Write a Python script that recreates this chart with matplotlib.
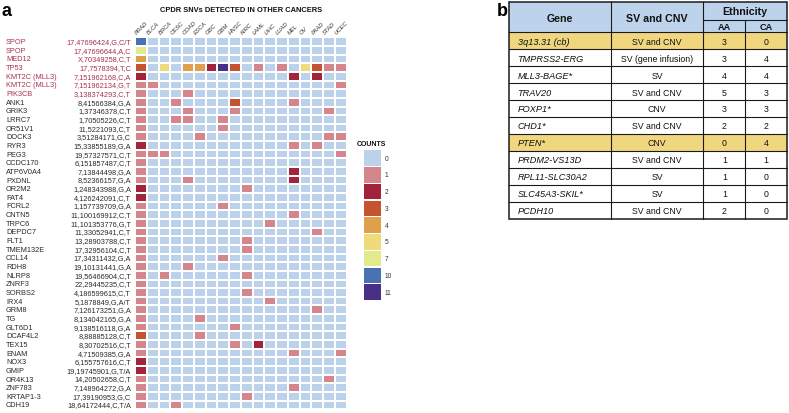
import numpy as np
import matplotlib
matplotlib.use("Agg")
import matplotlib.pyplot as plt
from matplotlib.colors import ListedColormap, BoundaryNorm
from matplotlib.patches import Rectangle
from matplotlib.transforms import blended_transform_factory as blend
from matplotlib import font_manager

# ---------------- data: panel a ----------------
cancers = ["PRAD", "BLCA", "BRCA", "CESC", "COAD", "ESCA", "GBC", "GBM", "HNSC",
           "KIRC", "LAML", "LIHC", "LUAD", "MEL", "OV", "PAAD", "STAD", "UCEC"]

genes = ["SPOP", "SPOP", "MED12", "TP53", "KMT2C (MLL3)", "KMT2C (MLL3)", "PIK3CB",
         "ANK1", "GRIK3", "LRRC7", "OR51V1", "DOCK3", "RYR3", "PEG3", "CCDC170",
         "ATP6V0A4", "PXDNL", "OR2M2", "FAT4", "FCRL2", "CNTN5", "TRPC6", "DEPDC7",
         "FLT1", "TMEM132E", "CCL14", "RDH8", "NLRP8", "ZNRF3", "SORBS2", "IRX4",
         "GRM8", "TG", "GLT6D1", "DCAF4L2", "TEX15", "ENAM", "NOX3", "GMIP",
         "OR4K13", "ZNF783", "KRTAP1-3", "CDH19"]

variants = ["17,47696424,G,C/T", "17,47696644,A,C", "X,70349258,C,T", "17,7578394,T,C",
            "7,151962168,C,A", "7,151962134,G,T", "3,138374293,C,T", "8,41566384,G,A",
            "1,37346378,C,T", "1,70505226,C,T", "11,5221093,C,T", "3,51284171,G,C",
            "15,33855189,G,A", "19,57327571,C,T", "6,151857487,C,T", "7,13844498,G,A",
            "8,52366157,G,A", "1,248343988,G,A", "4,126242091,C,T", "1,157739709,G,A",
            "11,100169912,C,T", "11,101353776,G,T", "11,33052941,C,T", "13,28903788,C,T",
            "17,32956104,C,T", "17,34311432,G,A", "19,10131441,G,A", "19,56466904,C,T",
            "22,29445235,C,T", "4,186599615,C,T", "5,1878849,G,A/T", "7,126173251,G,A",
            "8,134042165,G,A", "9,138516118,G,A", "8,88885128,C,T", "8,30702516,C,T",
            "4,71509385,G,A", "6,155757616,C,T", "19,19745901,G,T/A", "14,20502658,C,T",
            "7,148964272,G,A", "17,39190953,G,C", "18,64172444,C,T/A"]

n_driver = 7  # first rows highlighted in red

# non-zero counts per row (cancer -> count); all other cells are 0
counts = [
    {"PRAD": 10},
    {"PRAD": 7},
    {"PRAD": 4},
    {"PRAD": 3, "BRCA": 5, "COAD": 4, "ESCA": 4, "GBC": 2, "GBM": 11, "HNSC": 3,
     "LAML": 1, "LUAD": 1, "OV": 5, "PAAD": 3, "STAD": 1, "UCEC": 1},
    {"PRAD": 2, "MEL": 2, "PAAD": 2},
    {"PRAD": 1, "BLCA": 1, "UCEC": 1},
    {"PRAD": 1, "COAD": 1},
    {"PRAD": 1, "CESC": 1, "HNSC": 3, "MEL": 1},
    {"PRAD": 1, "COAD": 1, "HNSC": 1, "STAD": 1},
    {"PRAD": 1, "CESC": 1, "COAD": 1, "GBM": 1},
    {"PRAD": 1, "GBM": 1},
    {"PRAD": 1, "ESCA": 1, "STAD": 1, "UCEC": 1},
    {"PRAD": 2, "MEL": 1, "PAAD": 1},
    {"PRAD": 1, "BLCA": 1, "BRCA": 1, "UCEC": 1},
    {"PRAD": 1},
    {"PRAD": 1, "MEL": 2},
    {"PRAD": 1, "COAD": 1, "MEL": 2},
    {"PRAD": 2, "KIRC": 1},
    {"PRAD": 2},
    {"PRAD": 1, "GBM": 1},
    {"PRAD": 1, "MEL": 1},
    {"PRAD": 1, "LIHC": 1},
    {"PRAD": 1, "PAAD": 1},
    {"PRAD": 1, "KIRC": 1},
    {"PRAD": 1, "KIRC": 1},
    {"PRAD": 1, "GBM": 1},
    {"PRAD": 1, "COAD": 1},
    {"PRAD": 1, "BRCA": 1, "KIRC": 1},
    {"PRAD": 1},
    {"PRAD": 1, "KIRC": 1},
    {"PRAD": 1, "LIHC": 1},
    {"PRAD": 1, "PAAD": 1},
    {"PRAD": 1, "ESCA": 1},
    {"PRAD": 1, "HNSC": 1},
    {"PRAD": 3, "ESCA": 1},
    {"PRAD": 1, "HNSC": 1, "LAML": 2},
    {"PRAD": 1, "MEL": 1, "UCEC": 1},
    {"PRAD": 2},
    {"PRAD": 2},
    {"PRAD": 1, "STAD": 1},
    {"PRAD": 1, "MEL": 1},
    {"PRAD": 1, "KIRC": 1},
    {"PRAD": 1, "CESC": 1},
]

levels = [0, 1, 2, 3, 4, 5, 7, 10, 11]
level_colors = ["#bcd2ea", "#d4868c", "#a3233b", "#c5532f", "#dea04b",
                "#efdb7a", "#e3ea8c", "#4a72b2", "#4a2f87"]

# ---------------- data: panel b ----------------
b_genes = ["3q13.31 (cb)", "TMPRSS2-ERG", "MLL3-BAGE*", "TRAV20", "FOXP1*", "CHD1*",
           "PTEN*", "PRDM2-VS13D", "RPL11-SLC30A2", "SLC45A3-SKIL*", "PCDH10"]
b_type = ["SV and CNV", "SV (gene infusion)", "SV", "SV and CNV", "CNV", "SV and CNV",
          "CNV", "SV and CNV", "SV", "SV", "SV and CNV"]
b_aa = [3, 3, 4, 5, 3, 2, 0, 1, 1, 1, 2]
b_ca = [0, 4, 4, 3, 3, 2, 4, 1, 0, 0, 0]
b_highlight = ["3q13.31 (cb)", "PTEN*"]

# ---------------- figure ----------------
W, H = 789, 414
fig = plt.figure(figsize=(W / 100, H / 100), dpi=100)
plt.rcParams["font.family"] = ["Liberation Sans", "DejaVu Sans"]

names = {f.name for f in font_manager.fontManager.ttflist}
narrow = ["Liberation Sans Narrow", "Liberation Sans"] if "Liberation Sans Narrow" in names \
    else ["Liberation Sans"]
narrow_size = 7.3 if "Liberation Sans Narrow" in names else 6.3


def fx(px):
    return px / W


def fy(py):
    return 1 - py / H


# ---- heatmap ----
mat = np.zeros((len(genes), len(cancers)))
for i, row in enumerate(counts):
    for c, v in row.items():
        mat[i, cancers.index(c)] = v

cmap = ListedColormap(level_colors)
bounds = [-0.5, 0.5, 1.5, 2.5, 3.5, 4.5, 6, 8.5, 10.5, 11.5]
norm = BoundaryNorm(bounds, cmap.N)

hm_left, hm_right, hm_top, hm_bot = 135, 346.5, 38.3, 410.3
ax = fig.add_axes([fx(hm_left), fy(hm_bot), (hm_right - hm_left) / W, (hm_bot - hm_top) / H])
ax.pcolormesh(np.arange(len(cancers) + 1), np.arange(len(genes) + 1), mat,
              cmap=cmap, norm=norm, edgecolors="white", linewidth=1.1)
ax.set_xlim(0, len(cancers))
ax.set_ylim(len(genes), 0)
ax.axis("off")

tr_rows = blend(fig.transFigure, ax.transData)
for i, (g, v) in enumerate(zip(genes, variants)):
    col = "#a8334d" if i < n_driver else "#2b2b2b"
    ax.text(fx(6), i + 0.5, g, transform=tr_rows, ha="left", va="center",
            fontsize=5.3, color=col)
    ax.text(fx(131), i + 0.5, v, transform=tr_rows, ha="right", va="center",
            fontsize=5.3, color=col)

tr_cols = blend(ax.transData, fig.transFigure)
for j, c in enumerate(cancers):
    ax.text(j + 0.25, fy(35.5), c, transform=tr_cols, rotation=45,
            rotation_mode="anchor", ha="left", va="bottom", fontsize=4.2,
            color="#333333", style="italic")

fig.text(fx(241), fy(10), "CPDR SNVs DETECTED IN OTHER CANCERS", ha="center",
         va="center", fontsize=5.4, fontweight="bold", color="#111111")
fig.text(fx(1), fy(11), "a", ha="left", va="center", fontsize=13, fontweight="bold")
fig.text(fx(497), fy(11), "b", ha="left", va="center", fontsize=13, fontweight="bold")

# ---- legend ----
leg_top, pitch = 150.7, 16.75
axl = fig.add_axes([fx(364), fy(leg_top + pitch * len(levels)), 16.5 / W,
                    pitch * len(levels) / H])
for k, (lv, colr) in enumerate(zip(levels, level_colors)):
    axl.add_patch(Rectangle((0, k + 0.04), 1, 0.92, facecolor=colr, edgecolor="none"))
    axl.text(fx(385), k + 0.5, str(lv), transform=blend(fig.transFigure, axl.transData),
             ha="left", va="center", fontsize=4.8, color="#333333")
axl.set_xlim(0, 1)
axl.set_ylim(len(levels), 0)
axl.axis("off")
fig.text(fx(357), fy(145), "COUNTS", ha="left", va="center", fontsize=5.0,
         fontweight="bold", color="#111111")

# ---- table ----
xs = [509, 610.7, 703.3, 745.3, 786.7]
t_top, t_mid, t_head = 2.7, 20.7, 33.3
t_bot = 220.0
rh = (t_bot - t_head) / len(b_genes)
axt = fig.add_axes([fx(xs[0] - 2), fy(t_bot + 2), (xs[-1] - xs[0] + 4) / W,
                    (t_bot - t_top + 4) / H])
axt.set_xlim(xs[0] - 2, xs[-1] + 2)
axt.set_ylim(t_bot + 2, t_top - 2)
axt.axis("off")

head_col = "#bdd3ec"
gold = "#efd67f"
line_c = "#1a1a1a"
axt.add_patch(Rectangle((xs[0], t_top), xs[-1] - xs[0], t_head - t_top,
                        facecolor=head_col, edgecolor="none"))
for i, g in enumerate(b_genes):
    y0 = t_head + i * rh
    if g in b_highlight:
        axt.add_patch(Rectangle((xs[0], y0), xs[-1] - xs[0], rh, facecolor=gold,
                                edgecolor="none"))
    yc = y0 + rh / 2 + 0.3
    axt.text(xs[0] + 8.5, yc, g, ha="left", va="center", fontsize=6.6,
             style="italic", color="#111111")
    axt.text((xs[1] + xs[2]) / 2, yc, b_type[i], ha="center", va="center",
             fontsize=narrow_size, color="#111111", family=narrow)
    axt.text((xs[2] + xs[3]) / 2, yc, str(b_aa[i]), ha="center", va="center",
             fontsize=narrow_size, color="#111111", family=narrow)
    axt.text((xs[3] + xs[4]) / 2, yc, str(b_ca[i]), ha="center", va="center",
             fontsize=narrow_size, color="#111111", family=narrow)
    axt.plot([xs[0], xs[-1]], [y0, y0], color=line_c, lw=0.8)

# header text
axt.text((xs[0] + xs[1]) / 2, (t_top + t_head) / 2 + 0.5, "Gene", ha="center",
         va="center", fontsize=7.7, fontweight="bold", color="#111111")
axt.text((xs[1] + xs[2]) / 2, (t_top + t_head) / 2 + 0.5, "SV and CNV", ha="center",
         va="center", fontsize=7.7, fontweight="bold", color="#111111")
axt.text((xs[2] + xs[4]) / 2, (t_top + t_mid) / 2 + 0.5, "Ethnicity", ha="center",
         va="center", fontsize=7.7, fontweight="bold", color="#111111")
axt.text((xs[2] + xs[3]) / 2, (t_mid + t_head) / 2 + 0.5, "AA", ha="center",
         va="center", fontsize=6.6, fontweight="bold", color="#111111")
axt.text((xs[3] + xs[4]) / 2, (t_mid + t_head) / 2 + 0.5, "CA", ha="center",
         va="center", fontsize=6.6, fontweight="bold", color="#111111")

# vertical lines
axt.plot([xs[1], xs[1]], [t_top, t_bot], color=line_c, lw=0.8)
axt.plot([xs[2], xs[2]], [t_top, t_bot], color=line_c, lw=0.8)
axt.plot([xs[3], xs[3]], [t_mid, t_bot], color=line_c, lw=0.8)
axt.plot([xs[2], xs[4]], [t_mid, t_mid], color=line_c, lw=0.8)
# outer border
axt.add_patch(Rectangle((xs[0], t_top), xs[-1] - xs[0], t_bot - t_top,
                        facecolor="none", edgecolor=line_c, lw=1.1))

fig.savefig("out.png", dpi=100)
